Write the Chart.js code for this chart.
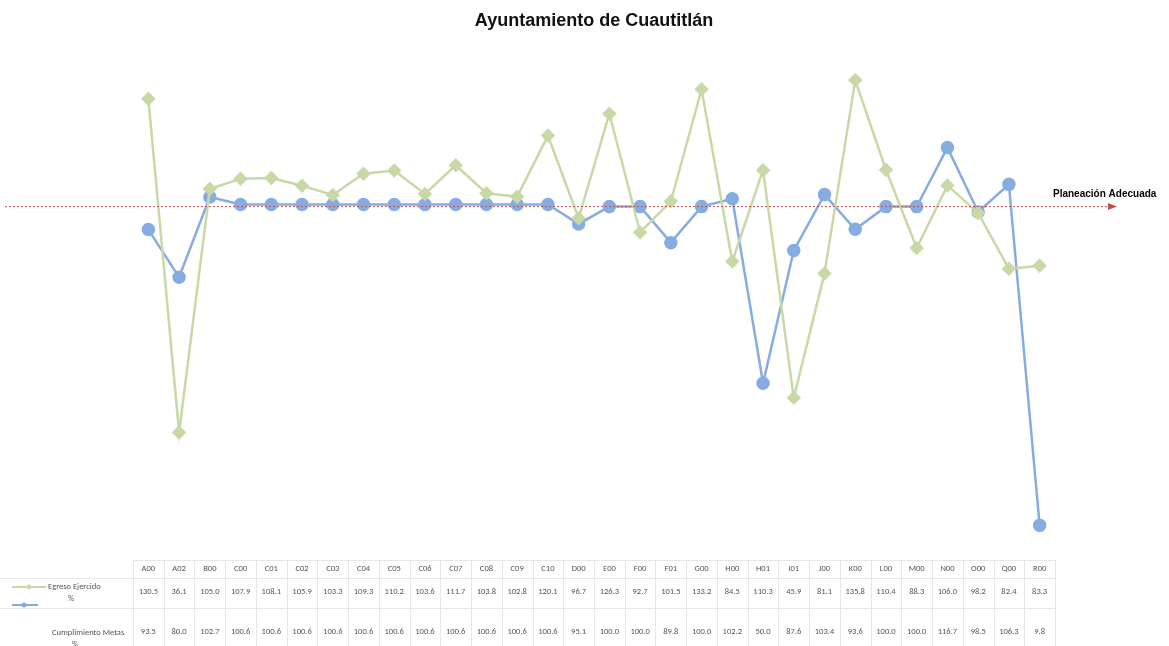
<!DOCTYPE html>
<html>
<head>
<meta charset="utf-8">
<script src="https://cdn.jsdelivr.net/npm/chart.js@4/dist/chart.umd.min.js"></script>
<style>
  html, body { margin: 0; padding: 0; background: #fff; }
  #wrap { width: 1169px; height: 646px; }
</style>
</head>
<body>
<div id="wrap"><canvas id="myChart"></canvas></div>
<script>
const categories = ["A00","A02","B00","C00","C01","C02","C03","C04","C05","C06","C07","C08","C09","C10","D00","E00","F00","F01","G00","H00","H01","I01","J00","K00","L00","M00","N00","O00","Q00","R00"];
const egresoEjercido = [130.5,36.1,105.0,107.9,108.1,105.9,103.3,109.3,110.2,103.6,111.7,103.8,102.8,120.1,96.7,126.3,92.7,101.5,133.2,84.5,110.3,45.9,81.1,135.8,110.4,88.3,106.0,98.2,82.4,83.3];
const cumplimientoMetas = [93.5,80.0,102.7,100.6,100.6,100.6,100.6,100.6,100.6,100.6,100.6,100.6,100.6,100.6,95.1,100.0,100.0,89.8,100.0,102.2,50.0,87.6,103.4,93.6,100.0,100.0,116.7,98.5,106.3,9.8];
const planeacion = 100;

const green = "rgb(200,216,166)";
const blue = "rgb(134,172,226)";

// dotted reference line with arrow + data table under the plot
const extras = {
  id: "extras",
  afterDraw(chart) {
    const ctx = chart.ctx;
    const x = chart.scales.x, y = chart.scales.y;
    const yr = y.getPixelForValue(planeacion);

    ctx.save();
    ctx.strokeStyle = "rgb(192,80,77)";
    ctx.lineWidth = 1;
    ctx.setLineDash([2, 2]);
    ctx.beginPath();
    ctx.moveTo(5, yr);
    ctx.lineTo(1110, yr);
    ctx.stroke();
    ctx.setLineDash([]);
    ctx.fillStyle = "rgb(192,80,77)";
    ctx.beginPath();
    ctx.moveTo(1117, yr);
    ctx.lineTo(1108, yr - 3.5);
    ctx.lineTo(1108, yr + 3.5);
    ctx.closePath();
    ctx.fill();
    ctx.fillStyle = "#000";
    ctx.font = "bold 10px Arial, 'Liberation Sans'";
    ctx.textAlign = "left";
    ctx.textBaseline = "middle";
    ctx.fillText("Planeación Adecuada", 1053, yr - 12);

    // table
    const top = chart.chartArea.bottom;
    const r1 = top + 18, r2 = top + 48, bottom = 646;
    const step = x.getPixelForValue(1) - x.getPixelForValue(0);
    const left = x.getPixelForValue(0) - step / 2;
    const right = x.getPixelForValue(categories.length - 1) + step / 2;
    ctx.strokeStyle = "#e6e6e6";
    ctx.lineWidth = 1;
    ctx.beginPath();
    ctx.moveTo(left, top + 0.5); ctx.lineTo(right, top + 0.5);
    ctx.moveTo(0, r1 + 0.5); ctx.lineTo(right, r1 + 0.5);
    ctx.moveTo(0, r2 + 0.5); ctx.lineTo(right, r2 + 0.5);
    for (let i = 0; i <= categories.length; i++) {
      const px = Math.round(left + i * step) + 0.5;
      ctx.moveTo(px, top); ctx.lineTo(px, bottom);
    }
    ctx.stroke();

    ctx.fillStyle = "#555";
    ctx.font = "8.5px Calibri, Carlito, 'Liberation Sans', Arial";
    ctx.textAlign = "center";
    ctx.textBaseline = "middle";
    categories.forEach((c, i) => {
      const px = x.getPixelForValue(i);
      ctx.fillText(c, px, top + 9);
      ctx.fillText(egresoEjercido[i].toFixed(1), px, r1 + 14);
      ctx.fillText(cumplimientoMetas[i].toFixed(1), px, r2 + 24);
    });

    // legend keys
    ctx.lineWidth = 2;
    ctx.strokeStyle = green;
    ctx.beginPath(); ctx.moveTo(12, r1 + 9); ctx.lineTo(46, r1 + 9); ctx.stroke();
    ctx.fillStyle = green;
    ctx.beginPath();
    ctx.moveTo(29, r1 + 6); ctx.lineTo(32, r1 + 9); ctx.lineTo(29, r1 + 12); ctx.lineTo(26, r1 + 9);
    ctx.closePath(); ctx.fill();
    ctx.strokeStyle = blue;
    ctx.beginPath(); ctx.moveTo(12, r2 - 3); ctx.lineTo(38, r2 - 3); ctx.stroke();
    ctx.fillStyle = blue;
    ctx.beginPath(); ctx.arc(24, r2 - 3, 2.5, 0, Math.PI * 2); ctx.fill();

    ctx.fillStyle = "#555";
    ctx.textAlign = "left";
    ctx.fillText("Egreso Ejercido", 48, r1 + 9);
    ctx.fillText("%", 68, r1 + 21);
    ctx.fillText("Cumplimiento Metas", 52, r2 + 25);
    ctx.fillText("%", 72, r2 + 37);
    ctx.restore();
  }
};

new Chart("myChart", {
  type: "line",
  data: {
    labels: categories,
    datasets: [{
      label: "Egreso Ejercido %",
      data: egresoEjercido,
      borderColor: green,
      backgroundColor: green,
      borderWidth: 2.5,
      pointStyle: "rectRot",
      pointRadius: 5.5,
      fill: false,
      tension: 0,
      clip: false
    }, {
      label: "Cumplimiento Metas %",
      data: cumplimientoMetas,
      borderColor: blue,
      backgroundColor: blue,
      borderWidth: 2.5,
      pointStyle: "circle",
      pointRadius: 5.5,
      fill: false,
      tension: 0,
      clip: false
    }]
  },
  options: {
    responsive: true,
    maintainAspectRatio: false,
    animation: false,
    layout: { padding: { left: 133, right: 114, bottom: 86, top: 0 } },
    plugins: {
      legend: { display: false },
      tooltip: { enabled: false },
      title: {
        display: true,
        text: "Ayuntamiento de Cuautitlán",
        color: "#111",
        font: { family: "Arial, 'Liberation Sans'", size: 18, weight: "bold" },
        padding: { top: 10, bottom: 16 }
      }
    },
    scales: {
      x: { display: false, offset: true },
      y: { display: false, min: 0, max: 145 }
    }
  },
  plugins: [extras]
});
</script>
</body>
</html>
